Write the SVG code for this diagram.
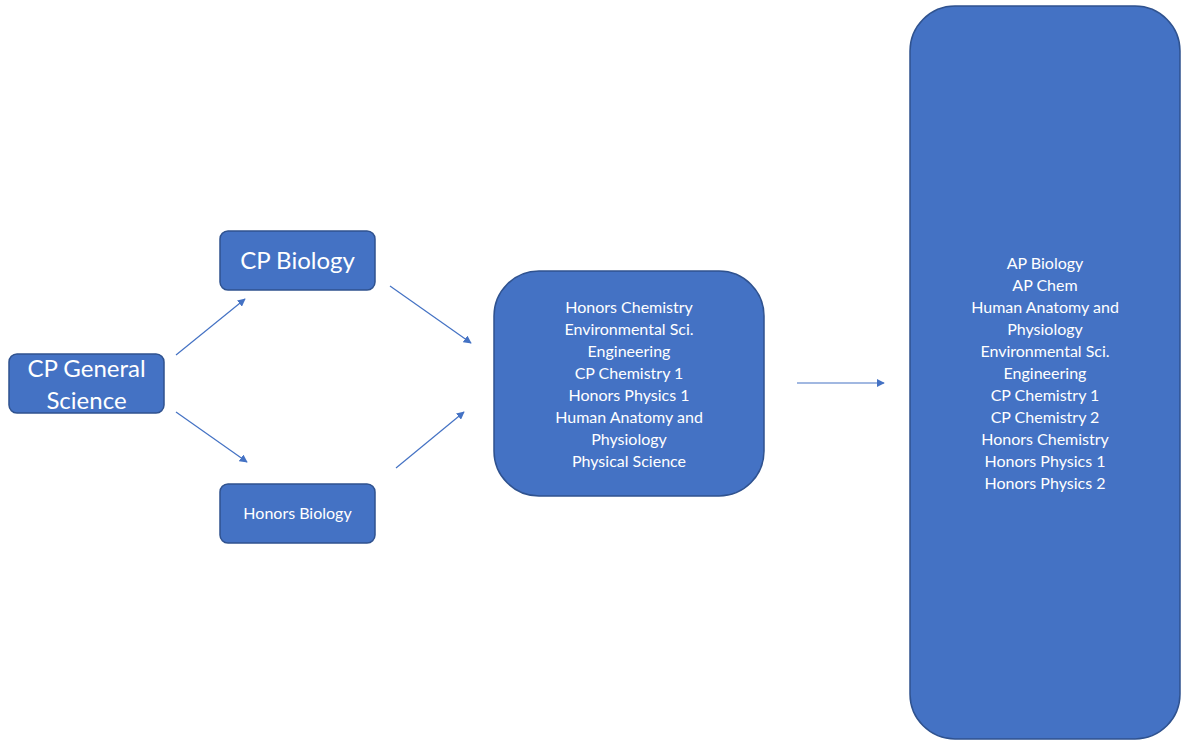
<svg xmlns="http://www.w3.org/2000/svg" width="1183" height="740" viewBox="0 0 1183 740">
<style>
.box{fill:#4472C4;stroke:#2F528F;stroke-width:1.5}
.t{fill:#fff;font-family:Lato,"Open Sans","Liberation Sans",sans-serif;text-anchor:middle}
.big{font-size:24px}
.sm{font-size:16px}
.c{stroke:#4472C4;stroke-width:1.2;fill:none;marker-end:url(#ah)}
</style>
<defs>
<marker id="ah" viewBox="0 0 10 10" refX="9" refY="5" markerWidth="8" markerHeight="8" markerUnits="userSpaceOnUse" orient="auto">
<path d="M0,0 L10,5 L0,10 z" fill="#4472C4"/>
</marker>
</defs>
<rect width="1183" height="740" fill="#fff"/>
<g id="connectors">
<line class="c" x1="176" y1="355" x2="245" y2="299"/>
<line class="c" x1="176" y1="412" x2="247" y2="462"/>
<line class="c" x1="390" y1="286" x2="471" y2="343"/>
<line class="c" x1="396" y1="468" x2="464" y2="412"/>
<line class="c" x1="797" y1="383" x2="884" y2="383"/>
</g>
<g id="cp-general-science">
<rect class="box" x="9" y="354" width="155" height="59" rx="8"/>
<text class="t big" x="86.5" y="377">CP General</text>
<text class="t big" x="86.5" y="409">Science</text>
</g>
<g id="cp-biology">
<rect class="box" x="220" y="231" width="155" height="59" rx="8"/>
<text class="t big" x="297.5" y="269">CP Biology</text>
</g>
<g id="honors-biology">
<rect class="box" x="220" y="484" width="155" height="59" rx="8"/>
<text class="t sm" x="297.5" y="519">Honors Biology</text>
</g>
<g id="middle-courses">
<rect class="box" x="494" y="271" width="270" height="225" rx="45"/>
<text class="t sm" x="629" y="313">Honors Chemistry</text>
<text class="t sm" x="629" y="335">Environmental Sci.</text>
<text class="t sm" x="629" y="357">Engineering</text>
<text class="t sm" x="629" y="379">CP Chemistry 1</text>
<text class="t sm" x="629" y="401">Honors Physics 1</text>
<text class="t sm" x="629" y="423">Human Anatomy and</text>
<text class="t sm" x="629" y="445">Physiology</text>
<text class="t sm" x="629" y="467">Physical Science</text>
</g>
<g id="advanced-courses">
<rect class="box" x="910" y="6" width="270" height="733" rx="45"/>
<text class="t sm" x="1045" y="269">AP Biology</text>
<text class="t sm" x="1045" y="291">AP Chem</text>
<text class="t sm" x="1045" y="313">Human Anatomy and</text>
<text class="t sm" x="1045" y="335">Physiology</text>
<text class="t sm" x="1045" y="357">Environmental Sci.</text>
<text class="t sm" x="1045" y="379">Engineering</text>
<text class="t sm" x="1045" y="401">CP Chemistry 1</text>
<text class="t sm" x="1045" y="423">CP Chemistry 2</text>
<text class="t sm" x="1045" y="445">Honors Chemistry</text>
<text class="t sm" x="1045" y="467">Honors Physics 1</text>
<text class="t sm" x="1045" y="489">Honors Physics 2</text>
</g>
</svg>
